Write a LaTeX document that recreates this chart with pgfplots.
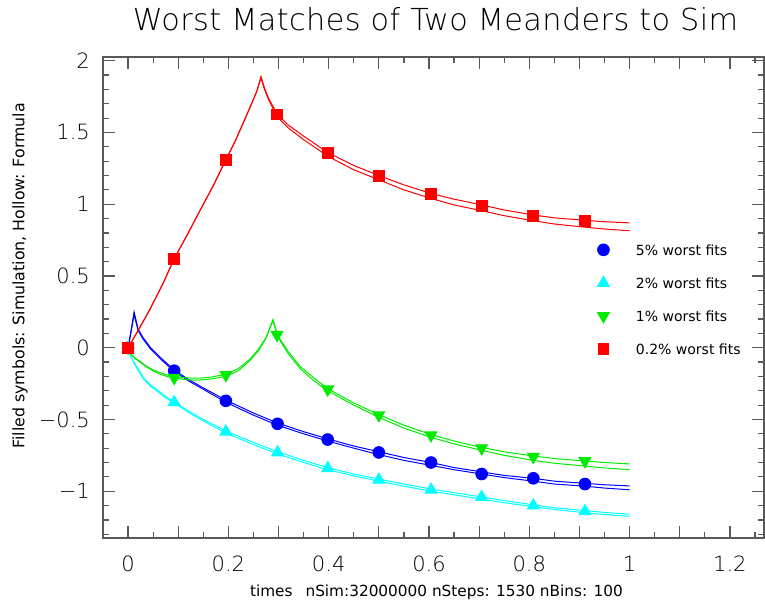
\documentclass[border=0pt]{standalone}
\usepackage{fontspec}
\setmainfont{DejaVu Sans}
\newfontfamily\thinfont{DejaVu Sans ExtraLight}
\newfontfamily\thintitle[LetterSpace=1.3]{DejaVu Sans ExtraLight}
\usepackage{pgfplots}
\pgfplotsset{compat=1.18}
\definecolor{cgreen}{RGB}{0,235,0}
\definecolor{ccyan}{RGB}{0,255,255}
\definecolor{cblue}{RGB}{0,0,255}
\definecolor{cred}{RGB}{255,0,0}
\begin{document}
\begin{tikzpicture}
\path[use as bounding box] (-103pt,-66pt) rectangle (662pt,538pt);
\begin{axis}[
  scale only axis, width=661pt, height=481pt,
  xmin=-0.05, xmax=1.268, ymin=-1.326, ymax=2.026,
  axis line style={black!65, line width=1.2pt},
  every tick/.style={black!65, line width=1.2pt},
  major tick length=12pt, minor tick length=6pt,
  tick align=inside,
  xtick={0,0.1,0.2,0.3,0.4,0.5,0.6,0.7,0.8,0.9,1,1.1,1.2},
  xticklabels={0,{},0.2,{},0.4,{},0.6,{},0.8,{},1,{},1.2},
  minor xtick={-0.05,0.05,0.15,0.25,0.35,0.45,0.55,0.65,0.75,0.85,0.95,1.05,1.15,1.25},
  ytick={-1,-0.5,0,0.5,1,1.5,2},
  yticklabels={−1,−0.5,0,0.5,1,1.5,2},
  minor ytick={-1.3,-1.2,-1.1,-0.9,-0.8,-0.7,-0.6,-0.4,-0.3,-0.2,-0.1,0.1,0.2,0.3,0.4,0.6,0.7,0.8,0.9,1.1,1.2,1.3,1.4,1.6,1.7,1.8,1.9},
  ticklabel style={font=\thinfont\fontsize{21}{25}\selectfont, inner sep=0pt},
  xticklabel style={anchor=base, yshift=-34pt},
  yticklabel style={anchor=east, xshift=-13pt},
  title={Worst Matches of Two Meanders to Sim},
  title style={font=\thintitle\fontsize{30.3}{34}\selectfont, anchor=base, at={(axis description cs:0.5,1)}, yshift=20.5pt, xshift=2pt, inner sep=0pt},
  xlabel={times\hspace{13pt}nSim:32000000 nSteps: 1530 nBins: 100},
  xlabel style={font=\fontsize{15.3}{18}\selectfont, anchor=base, at={(axis description cs:0.5,0)}, yshift=-59pt, xshift=3pt, inner sep=0pt},
  ylabel={Filled symbols: Simulation, Hollow: Formula},
  ylabel style={font=\fontsize{15.8}{18}\selectfont, at={(axis description cs:-0.1256,0.545)}, anchor=center, inner sep=0pt},
  legend cell align=left,
  legend style={draw=none, fill=none, at={(axis description cs:0.747,0.613)}, anchor=north west, inner sep=0pt, row sep=20pt, font=\fontsize{14}{16}\selectfont, nodes={inner sep=0pt, text depth=0pt}},
  legend image code/.code={\path (-6pt,-6pt) (32pt,6pt); \draw[#1] plot coordinates {(0pt,0pt)};},
  every axis plot/.append style={line width=1pt},
]
% ---- 5% (blue)
\addplot[cblue, forget plot] coordinates {(0,0) (0.005,0.1) (0.012,0.25) (0.02,0.13) (0.03,0.07) (0.045,0.0) (0.065,-0.07) (0.092,-0.155) (0.12,-0.22) (0.15,-0.28) (0.195,-0.365) (0.25,-0.455) (0.298,-0.525) (0.35,-0.585) (0.398,-0.635) (0.45,-0.685) (0.5,-0.725) (0.55,-0.765) (0.604,-0.80) (0.65,-0.835) (0.705,-0.865) (0.75,-0.89) (0.808,-0.91) (0.85,-0.93) (0.911,-0.945) (0.95,-0.955) (1.0,-0.963)};
\addplot[cblue, forget plot] coordinates {(0,0) (0.005,0.09) (0.012,0.23) (0.02,0.12) (0.03,0.06) (0.045,-0.01) (0.065,-0.08) (0.092,-0.165) (0.12,-0.23) (0.15,-0.29) (0.195,-0.38) (0.25,-0.47) (0.298,-0.54) (0.35,-0.60) (0.398,-0.65) (0.45,-0.70) (0.5,-0.745) (0.55,-0.785) (0.604,-0.82) (0.65,-0.85) (0.705,-0.88) (0.75,-0.905) (0.808,-0.93) (0.85,-0.95) (0.911,-0.965) (0.95,-0.978) (1.0,-0.99)};
\addplot[cblue, only marks, mark=*, mark size=5.8pt] coordinates {(0,0) (0.092,-0.16) (0.195,-0.37) (0.298,-0.53) (0.398,-0.64) (0.5,-0.73) (0.604,-0.80) (0.705,-0.88) (0.808,-0.91) (0.911,-0.95)};
\addlegendentry{5\% worst fits}
% ---- 2% (cyan)
\addplot[ccyan, forget plot] coordinates {(0,0) (0.004,-0.05) (0.01,-0.09) (0.017,-0.13) (0.031,-0.21) (0.045,-0.26) (0.057,-0.29) (0.075,-0.34) (0.092,-0.375) (0.12,-0.44) (0.15,-0.50) (0.195,-0.58) (0.25,-0.66) (0.298,-0.725) (0.35,-0.785) (0.398,-0.835) (0.45,-0.88) (0.5,-0.915) (0.55,-0.95) (0.604,-0.985) (0.65,-1.01) (0.705,-1.04) (0.75,-1.065) (0.808,-1.095) (0.85,-1.115) (0.911,-1.135) (0.95,-1.148) (1.0,-1.16)};
\addplot[ccyan, forget plot] coordinates {(0,0) (0.004,-0.05) (0.01,-0.095) (0.017,-0.14) (0.031,-0.22) (0.045,-0.27) (0.057,-0.30) (0.075,-0.35) (0.092,-0.385) (0.12,-0.45) (0.15,-0.51) (0.195,-0.595) (0.25,-0.675) (0.298,-0.74) (0.35,-0.80) (0.398,-0.85) (0.45,-0.893) (0.5,-0.93) (0.55,-0.965) (0.604,-1.0) (0.65,-1.025) (0.705,-1.055) (0.75,-1.08) (0.808,-1.108) (0.85,-1.127) (0.911,-1.15) (0.95,-1.163) (1.0,-1.175)};
\addplot[ccyan, only marks, mark=triangle*, mark size=6.7pt] coordinates {(0,0) (0.092,-0.38) (0.195,-0.585) (0.298,-0.73) (0.398,-0.84) (0.5,-0.92) (0.604,-0.99) (0.705,-1.04) (0.808,-1.10) (0.911,-1.14)};
\addlegendentry{2\% worst fits}
% ---- 1% (green)
\addplot[cgreen, forget plot] coordinates {(0,0) (0.007,-0.05) (0.015,-0.075) (0.024,-0.095) (0.035,-0.125) (0.05,-0.155) (0.065,-0.175) (0.077,-0.19) (0.092,-0.20) (0.11,-0.208) (0.13,-0.212) (0.144,-0.212) (0.165,-0.205) (0.195,-0.185) (0.22,-0.145) (0.243,-0.08) (0.26,-0.01) (0.275,0.07) (0.289,0.196) (0.297,0.10) (0.303,0.06) (0.32,-0.03) (0.343,-0.13) (0.37,-0.21) (0.398,-0.285) (0.45,-0.385) (0.5,-0.465) (0.55,-0.54) (0.604,-0.605) (0.65,-0.65) (0.705,-0.695) (0.75,-0.725) (0.808,-0.755) (0.85,-0.772) (0.911,-0.79) (0.95,-0.80) (1.0,-0.81)};
\addplot[cgreen, forget plot] coordinates {(0,0) (0.007,-0.05) (0.015,-0.078) (0.024,-0.1) (0.035,-0.13) (0.05,-0.162) (0.065,-0.185) (0.077,-0.2) (0.092,-0.21) (0.11,-0.22) (0.13,-0.225) (0.144,-0.225) (0.165,-0.218) (0.195,-0.2) (0.22,-0.16) (0.243,-0.09) (0.26,-0.02) (0.275,0.065) (0.289,0.19) (0.297,0.09) (0.303,0.05) (0.32,-0.045) (0.343,-0.145) (0.37,-0.23) (0.398,-0.30) (0.45,-0.40) (0.5,-0.485) (0.55,-0.56) (0.604,-0.625) (0.65,-0.67) (0.705,-0.715) (0.75,-0.75) (0.808,-0.785) (0.85,-0.805) (0.911,-0.825) (0.95,-0.838) (1.0,-0.85)};
\addplot[cgreen, only marks, mark=triangle*, mark size=6.7pt, mark options={rotate=180}] coordinates {(0,0) (0.092,-0.21) (0.195,-0.19) (0.297,0.09) (0.398,-0.29) (0.5,-0.47) (0.604,-0.61) (0.705,-0.70) (0.808,-0.76) (0.911,-0.79)};
\addlegendentry{1\% worst fits}
% ---- 0.2% (red)
\addplot[cred, forget plot] coordinates {(0,0) (0.02,0.12) (0.044,0.27) (0.07,0.45) (0.092,0.62) (0.12,0.80) (0.144,0.96) (0.17,1.13) (0.195,1.31) (0.215,1.45) (0.23,1.57) (0.245,1.69) (0.257,1.79) (0.265,1.89) (0.272,1.81) (0.28,1.74) (0.297,1.63) (0.32,1.55) (0.35,1.475) (0.398,1.36) (0.45,1.27) (0.5,1.20) (0.55,1.135) (0.604,1.075) (0.65,1.035) (0.705,0.995) (0.75,0.96) (0.808,0.925) (0.85,0.905) (0.911,0.888) (0.95,0.878) (1.0,0.87)};
\addplot[cred, forget plot] coordinates {(0,0) (0.02,0.12) (0.044,0.27) (0.07,0.45) (0.092,0.62) (0.12,0.80) (0.144,0.96) (0.17,1.13) (0.195,1.31) (0.215,1.45) (0.23,1.57) (0.245,1.69) (0.257,1.79) (0.265,1.88) (0.272,1.80) (0.28,1.73) (0.297,1.61) (0.32,1.53) (0.35,1.45) (0.398,1.335) (0.45,1.24) (0.5,1.17) (0.55,1.10) (0.604,1.04) (0.65,0.995) (0.705,0.955) (0.75,0.92) (0.808,0.885) (0.85,0.862) (0.911,0.84) (0.95,0.827) (1.0,0.815)};
\addplot[cred, only marks, mark=square*, mark size=5.4pt] coordinates {(0,0) (0.092,0.62) (0.195,1.31) (0.297,1.625) (0.398,1.355) (0.5,1.195) (0.604,1.07) (0.705,0.99) (0.808,0.92) (0.911,0.885)};
\addlegendentry{0.2\% worst fits}
\end{axis}
\end{tikzpicture}
\end{document}
